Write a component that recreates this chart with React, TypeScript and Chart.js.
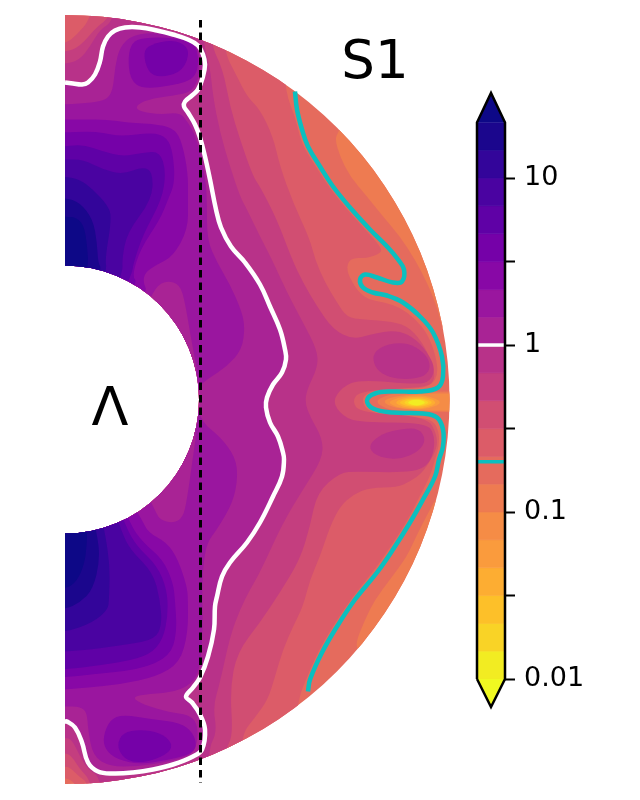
import React, { useEffect, useRef } from "react";
import { Chart, registerables } from "chart.js";

Chart.register(...registerables);

type Pt = number[];

// contour outlines, (cylindrical radius, height) in the plot's units
const CONTOUR_1: Pt[] = [[0,317],[8,316],[17,315],[23,317],[30,325],[35,338],[38,353],[43,363],[50,369],[60,372],[75,372],[92,369],[108,365],[123,360],[133,354],[138,345],[140,335],[138,323],[133,310],[127,304],[120,298],[119,293],[123,287],[130,275],[135,262],[140,243],[145,220],[151,190],[156,172],[166,153],[180,137],[195,115],[205,93],[215,70],[220,50],[221,40],[217,27],[208,15],[202,2],[201,-8],[205,-23],[213,-37],[218,-53],[219,-60],[217,-77],[208,-97],[195,-123],[182,-143],[165,-163],[157,-177],[152,-197],[150,-207],[149,-230],[143,-257],[135,-278],[128,-288],[121,-297],[127,-303],[135,-315],[140,-330],[137,-350],[128,-357],[108,-365],[88,-370],[68,-373],[48,-374],[33,-372],[23,-363],[17,-343],[10,-328],[2,-322],[0,-322]];
const CONTOUR_02: Pt[] = [[230,308],[232,290],[237,270],[243,253],[255,233],[268,213],[285,192],[305,170],[323,152],[333,140],[339,130],[337,118],[328,117],[312,122],[300,125],[295,120],[298,112],[308,107],[322,104],[338,97],[355,83],[368,67],[377,43],[378,23],[373,12],[355,8],[328,8],[310,6],[302,-1],[308,-9],[328,-13],[358,-14],[372,-18],[378,-30],[378,-47],[374,-60],[370,-77],[358,-100],[345,-123],[328,-150],[312,-173],[290,-200],[272,-227],[257,-253],[245,-280],[243,-292]];

const BAND_7: Pt[] = [[-60,420],[420,420],[420,-420],[-60,-420]];
const LOBE_TOP: Pt[] = [[273,267],[270,260],[275,243],[285,223],[302,203],[318,183],[335,163],[350,140],[363,115],[373,90],[380,60],[405,60],[405,280],[280,280]];
const LOBE_BOTTOM: Pt[] = [[373,-95],[365,-110],[352,-135],[342,-157],[325,-180],[310,-200],[300,-220],[290,-245],[295,-252],[415,-252],[415,-95]];
const BAND_8: Pt[] = [[220,420],[220,318],[223,300],[230,283],[235,262],[240,250],[252,231],[265,211],[282,190],[302,168],[318,150],[313,145],[300,141],[290,142],[283,138],[282,128],[287,118],[293,108],[303,100],[320,97],[335,92],[350,81],[363,65],[371,43],[373,25],[367,15],[355,11],[328,11],[310,9],[300,5],[297,-1],[302,-11],[320,-16],[355,-18],[368,-21],[374,-32],[374,-47],[370,-60],[365,-77],[353,-100],[342,-122],[325,-148],[309,-171],[287,-198],[269,-225],[253,-252],[241,-280],[233,-300],[215,-420],[25,-420],[12,-385],[0,-377],[-40,-377],[-40,420],[-40,420],[-40,420]];
const BAND_9: Pt[] = [[-40,355],[0,355],[12,365],[25,380],[35,420],[158,420],[158,350],[172,323],[182,303],[195,290],[208,263],[215,233],[228,197],[245,160],[250,140],[260,117],[272,97],[282,82],[298,80],[328,78],[345,72],[360,53],[368,33],[370,20],[362,12],[295,9],[287,-2],[295,-13],[362,-17],[372,-35],[372,-50],[358,-73],[345,-82],[332,-88],[305,-88],[288,-95],[275,-107],[265,-127],[255,-157],[245,-180],[238,-207],[228,-227],[218,-250],[210,-277],[203,-300],[190,-318],[175,-337],[175,-420],[25,-420],[23,-383],[15,-378],[5,-368],[0,-367],[-40,-367]];
const BAND_10: Pt[] = [[-40,347],[0,347],[15,353],[32,373],[45,382],[50,420],[145,420],[145,357],[158,330],[165,293],[175,260],[188,223],[195,213],[212,180],[227,140],[238,117],[252,93],[268,70],[288,60],[305,65],[332,70],[352,60],[365,43],[370,30],[365,18],[352,15],[295,20],[278,13],[267,-2],[278,-17],[295,-23],[362,-23],[370,-37],[368,-57],[358,-70],[335,-73],[292,-72],[275,-73],[252,-93],[245,-127],[235,-160],[215,-193],[195,-223],[172,-253],[165,-290],[168,-337],[160,-350],[160,-420],[35,-420],[25,-380],[15,-370],[7,-357],[0,-353],[-40,-353]];
const BAND_11: Pt[] = [[-40,335],[0,335],[15,340],[25,353],[35,370],[48,378],[55,420],[138,420],[138,357],[145,333],[148,303],[155,267],[165,233],[175,203],[182,190],[195,163],[207,140],[222,107],[238,77],[252,50],[253,33],[242,10],[240,-3],[245,-17],[258,-40],[257,-60],[238,-90],[218,-123],[195,-173],[185,-190],[175,-210],[165,-237],[155,-283],[148,-307],[152,-333],[143,-350],[143,-420],[40,-420],[35,-377],[23,-370],[15,-357],[7,-340],[0,-338],[-40,-338]];
const ISLAND_11_UP: Pt[] = [[307,44],[316,53],[332,57],[347,55],[361,45],[366,33],[360,23],[342,20],[324,22],[311,30]];
const ISLAND_11_DOWN: Pt[] = [[304,-45],[317,-34],[338,-29],[354,-29],[361,-40],[354,-52],[335,-60],[317,-58],[307,-53]];
const BAND_12: Pt[] = [...CONTOUR_1, [-40,-322],[-40,317]];
const BAND_13: Pt[] = [[-40,295],[0,295],[28,297],[42,300],[48,310],[50,333],[55,353],[68,365],[95,367],[122,360],[133,352],[135,337],[133,318],[125,307],[108,304],[82,300],[70,293],[75,288],[95,285],[115,287],[123,277],[130,265],[135,247],[141,217],[142,195],[142,160],[152,137],[165,115],[176,90],[180,73],[177,50],[162,33],[142,20],[135,14],[130,0],[137,-23],[155,-37],[170,-57],[173,-77],[168,-103],[152,-130],[142,-143],[138,-167],[137,-200],[138,-223],[135,-273],[123,-287],[105,-293],[78,-295],[67,-298],[78,-305],[105,-313],[123,-315],[132,-323],[133,-340],[128,-355],[105,-362],[72,-367],[45,-367],[28,-357],[23,-330],[22,-313],[15,-307],[0,-307],[-40,-307]];
const ISLAND_12_UP: Pt[] = [[91,113],[102,119],[115,115],[120,97],[125,67],[130,40],[133,23],[100,30],[80,90]];
const ISLAND_12_DOWN: Pt[] = [[133,-23],[128,-57],[122,-100],[118,-118],[108,-124],[95,-120],[91,-113],[80,-90],[100,-30]];
const BAND_14: Pt[] = [[-40,280],[0,280],[18,280],[42,280],[62,277],[95,275],[110,270],[117,257],[123,227],[123,200],[123,170],[108,143],[92,135],[80,127],[78,117],[83,107],[40,60],[40,-60],[77,-120],[83,-133],[102,-143],[113,-160],[122,-187],[123,-200],[123,-233],[115,-263],[92,-277],[55,-285],[22,-288],[0,-290],[-40,-290]];
const BLOB_14_TOP: Pt[] = [[63,343],[67,357],[78,362],[108,362],[128,357],[133,347],[133,330],[127,320],[112,315],[78,310],[65,320]];
const BLOB_14_BOTTOM: Pt[] = [[38,-337],[45,-320],[58,-315],[88,-320],[115,-323],[128,-333],[132,-347],[125,-355],[105,-360],[75,-365],[52,-360],[40,-350]];
const BAND_15: Pt[] = [[-40,267],[0,267],[22,268],[38,267],[55,263],[88,267],[102,262],[108,247],[110,217],[103,200],[95,180],[75,150],[67,123],[73,117],[40,60],[40,-60],[65,-125],[78,-143],[98,-160],[108,-183],[110,-200],[112,-233],[105,-257],[75,-270],[25,-275],[0,-278],[-40,-278]];
const BLOB_15_TOP: Pt[] = [[78,347],[85,355],[108,360],[123,353],[123,340],[115,327],[95,322],[83,327]];
const BLOB_15_BOTTOM: Pt[] = [[52,-345],[58,-333],[75,-330],[95,-333],[107,-343],[105,-353],[85,-362],[68,-363],[57,-357]];
const BAND_16: Pt[] = [[-40,253],[0,253],[18,255],[38,248],[58,243],[78,247],[95,248],[101,228],[97,200],[78,165],[68,135],[67,125],[35,60],[35,-60],[61,-128],[72,-147],[92,-166],[102,-190],[103,-215],[98,-240],[85,-255],[60,-262],[25,-267],[0,-270],[-40,-270]];
const BAND_17: Pt[] = [[-40,240],[0,240],[18,240],[38,230],[58,225],[78,233],[88,227],[87,200],[62,167],[57,140],[58,127],[30,60],[30,-60],[57,-133],[65,-150],[88,-173],[95,-200],[97,-225],[90,-240],[62,-245],[25,-250],[0,-252],[-40,-252]];
const BAND_18: Pt[] = [[-40,223],[0,223],[15,220],[28,210],[42,195],[47,183],[40,140],[42,130],[25,60],[25,-60],[40,-133],[45,-167],[44,-200],[43,-210],[28,-223],[0,-233],[-40,-233]];
const BAND_19: Pt[] = [[-40,202],[0,202],[15,197],[28,180],[32,157],[33,137],[37,130],[15,60],[15,-60],[32,-133],[35,-160],[28,-190],[15,-203],[0,-210],[-40,-210]];
const BAND_OVER: Pt[] = [[-40,183],[0,183],[12,182],[20,172],[23,143],[23,135],[10,60],[10,-60],[22,-133],[22,-140],[20,-163],[12,-182],[0,-190],[-40,-190]];

const HOT_6: Pt[] = [[310,-2],[320,4],[335,7],[365,8],[410,8],[410,-13],[365,-12],[335,-12],[320,-9]];
const HOT_5: Pt[] = [[317,-2],[328,3],[355,6],[380,6],[410,6],[410,-11],[375,-11],[355,-11],[328,-8]];
const HOT_4: Pt[] = [[322,-3],[333,2],[350,4.5],[365,3.5],[378,-3],[365,-9],[350,-10],[333,-8]];
const HOT_3: Pt[] = [[329,-3],[338,1.5],[350,3],[362,2.5],[373,-3],[362,-8.5],[350,-9],[338,-7.5]];
const HOT_2: Pt[] = [[333,-3],[341,0.5],[350,1.5],[360,1],[369,-3],[360,-7],[350,-7.5],[341,-6.5]];
const HOT_1: Pt[] = [[338,-3],[344,0],[352,0.5],[358,0],[365,-3],[358,-6],[352,-6.5],[344,-6]];
const HOT_0: Pt[] = [[342,-3],[347,-0.5],[352,0],[356,-0.5],[361,-3],[356,-5.5],[352,-6],[347,-5.5]];

const DIVIDER: Pt[] = [[135.5,379.5],[135.5,-383.5]];

// colour bar
const CB_LEVELS = [0.01,0.0147,0.0215,0.0316,0.0464,0.0681,0.1,0.147,0.215,0.316,0.464,0.681,1,1.47,2.15,3.16,4.64,6.81,10,14.7,21.5];
const CB_COLORS = ["#f2ec22","#f9d326","#fdc029","#fdad32","#fa9b3d","#f58c46","#ee7b51","#e56b5d","#dc5c68","#d14e72","#c43e7f","#b83289","#a92395","#9a169f","#8808a6","#7501a8","#5f01a6","#4a03a1","#33059a","#1b068d"];
const CB_OVER = "#0d0887";
const CB_UNDER = "#f0f921";
const CB_APEX_LOW = 0.0068;
const CB_APEX_HIGH = 32.3;
const CB_TICKS = [0.01,0.0316,0.1,0.316,1,3.16,10];
const CB_TICK_LABELS = ["0.01","","0.1","","1","","10"];
const WHITE_LEVEL = 1;
const CYAN_LEVEL = 0.2;
const CYAN = "#0cbfbf";
const WHITE = "#ffffff";

const R_OUT = 384.5;
const R_IN = 134;

const toXY = (p: Pt[]) => p.map(([x, y]) => ({ x, y }));
const poly = (p: Pt[], color: string, extra: any = {}) => ({
  data: toXY(p), polyFill: color, smooth: true, clipShell: true,
  showLine: false, pointRadius: 0, ...extra,
});

const polyPlugin = {
  id: "polyFill",
  beforeDatasetDraw(chart: any, args: any) {
    const ds = chart.data.datasets[args.index];
    if (!ds.polyFill) return;
    const pts = args.meta.data as any[];
    const ctx = chart.ctx as CanvasRenderingContext2D;
    ctx.save();
    if (ds.clipShell) {
      const sx = chart.scales.x, sy = chart.scales.y;
      const cx = sx.getPixelForValue(0), cy = sy.getPixelForValue(0);
      const ro = sx.getPixelForValue(R_OUT) - cx, ri = sx.getPixelForValue(R_IN) - cx;
      ctx.beginPath();
      ctx.rect(cx, 0, chart.width, chart.height);
      ctx.clip();
      ctx.beginPath();
      ctx.arc(cx, cy, ro, 0, Math.PI * 2);
      ctx.arc(cx, cy, ri, 0, Math.PI * 2);
      ctx.clip("evenodd");
    }
    ctx.beginPath();
    const n = pts.length;
    if (ds.smooth) {
      const mid = (a: any, b: any) => ({ x: (a.x + b.x) / 2, y: (a.y + b.y) / 2 });
      const s = mid(pts[n - 1], pts[0]);
      ctx.moveTo(s.x, s.y);
      for (let i = 0; i < n; i++) {
        const m = mid(pts[i], pts[(i + 1) % n]);
        ctx.quadraticCurveTo(pts[i].x, pts[i].y, m.x, m.y);
      }
    } else {
      pts.forEach((p, i) => (i ? ctx.lineTo(p.x, p.y) : ctx.moveTo(p.x, p.y)));
    }
    ctx.closePath();
    ctx.fillStyle = ds.polyFill;
    ctx.fill();
    if (ds.seam) {
      ctx.strokeStyle = ds.polyFill;
      ctx.lineWidth = ds.seam;
      ctx.stroke();
    }
    ctx.restore();
  },
};

const TITLE_TEXT = "S1";
const QUANTITY_TEXT = "Λ";

const labelPlugin = {
  id: "labels",
  afterDatasetsDraw(chart: any) {
    const ctx = chart.ctx as CanvasRenderingContext2D;
    const sx = chart.scales.x, sy = chart.scales.y;
    ctx.save();
    ctx.fillStyle = "#000";
    ctx.textAlign = "center";
    ctx.textBaseline = "alphabetic";
    ctx.font = '53px "DejaVu Sans"';
    ctx.fillText(TITLE_TEXT, sx.getPixelForValue(310), sy.getPixelForValue(322));
    ctx.font = '54px "DejaVu Sans"';
    ctx.fillText(QUANTITY_TEXT, sx.getPixelForValue(45), sy.getPixelForValue(-25.5));
    ctx.restore();
  },
};

export default function App() {
  const mainRef = useRef<HTMLCanvasElement>(null);
  const barRef = useRef<HTMLCanvasElement>(null);

  useEffect(() => {
    const c = (k: number) => CB_COLORS[k];
    const layers = [
      poly(BAND_7, c(7), { smooth: false }),
      poly(LOBE_TOP, c(6)),
      poly(LOBE_BOTTOM, c(6)),
      poly(HOT_6, c(6)),
      poly(HOT_5, c(5)),
      poly(HOT_4, c(4)),
      poly(HOT_3, c(3)),
      poly(HOT_2, c(2)),
      poly(HOT_1, c(1)),
      poly(HOT_0, c(0)),
      poly(BAND_8, c(8)),
      poly(BAND_9, c(9)),
      poly(BAND_10, c(10)),
      poly(BAND_11, c(11)),
      poly(ISLAND_11_UP, c(11)),
      poly(ISLAND_11_DOWN, c(11)),
      poly(BAND_12, c(12)),
      poly(BAND_13, c(13)),
      poly(ISLAND_12_UP, c(12)),
      poly(ISLAND_12_DOWN, c(12)),
      poly(BAND_14, c(14)),
      poly(BLOB_14_TOP, c(14)),
      poly(BLOB_14_BOTTOM, c(14)),
      poly(BAND_15, c(15)),
      poly(BLOB_15_TOP, c(15)),
      poly(BLOB_15_BOTTOM, c(15)),
      poly(BAND_16, c(16)),
      poly(BAND_17, c(17)),
      poly(BAND_18, c(18)),
      poly(BAND_19, c(19)),
      poly(BAND_OVER, CB_OVER),
      { data: toXY(CONTOUR_1), showLine: true, borderColor: WHITE, borderWidth: 4.5, tension: 0.4, pointRadius: 0 },
      { data: toXY(CONTOUR_02), showLine: true, borderColor: CYAN, borderWidth: 4.5, tension: 0.4, pointRadius: 0 },
      { data: toXY(DIVIDER), showLine: true, borderColor: "#000", borderWidth: 3, borderDash: [7.5, 5], pointRadius: 0 },
    ];
    const N = layers.length;
    const main = new Chart(mainRef.current as HTMLCanvasElement, {
      type: "scatter",
      data: { datasets: layers.map((d, i) => ({ ...d, order: N - i })) as any },
      options: {
        animation: false,
        responsive: false,
        layout: { padding: 0 },
        plugins: { legend: { display: false }, tooltip: { enabled: false } },
        scales: {
          x: { type: "linear", display: false, min: -65, max: 575 },
          y: { type: "linear", display: false, min: -400.5, max: 399.5 },
        },
      },
      plugins: [polyPlugin, labelPlugin],
    } as any);

    const bandSets = CB_COLORS.map((col, k) => ({
      data: [
        { x: 0, y: CB_LEVELS[k] }, { x: 1, y: CB_LEVELS[k] },
        { x: 1, y: CB_LEVELS[k + 1] }, { x: 0, y: CB_LEVELS[k + 1] },
      ],
      polyFill: col, seam: 0.6, showLine: false, pointRadius: 0,
    }));
    const barLayers = [
      ...bandSets,
      { data: [{ x: 0, y: CB_LEVELS[0] }, { x: 1, y: CB_LEVELS[0] }, { x: 0.5, y: CB_APEX_LOW }], polyFill: CB_UNDER, showLine: false, pointRadius: 0 },
      { data: [{ x: 0, y: CB_LEVELS[20] }, { x: 1, y: CB_LEVELS[20] }, { x: 0.5, y: CB_APEX_HIGH }], polyFill: CB_OVER, showLine: false, pointRadius: 0 },
      { data: [{ x: 0, y: WHITE_LEVEL }, { x: 1, y: WHITE_LEVEL }], showLine: true, borderColor: WHITE, borderWidth: 3.5, pointRadius: 0 },
      { data: [{ x: 0, y: CYAN_LEVEL }, { x: 1, y: CYAN_LEVEL }], showLine: true, borderColor: CYAN, borderWidth: 3.5, pointRadius: 0 },
      {
        data: [
          { x: 0, y: CB_LEVELS[0] }, { x: 0.5, y: CB_APEX_LOW }, { x: 1, y: CB_LEVELS[0] },
          { x: 1, y: CB_LEVELS[20] }, { x: 0.5, y: CB_APEX_HIGH }, { x: 0, y: CB_LEVELS[20] }, { x: 0, y: CB_LEVELS[0] },
        ],
        showLine: true, borderColor: "#000", borderWidth: 2.5, pointRadius: 0, clip: false, borderJoinStyle: "miter",
      },
    ];
    const M = barLayers.length;
    const bar = new Chart(barRef.current as HTMLCanvasElement, {
      type: "scatter",
      data: { datasets: barLayers.map((d, i) => ({ ...d, order: M - i })) as any },
      options: {
        animation: false,
        responsive: false,
        layout: { padding: { left: 7, top: 8, bottom: 8, right: 0 } },
        plugins: { legend: { display: false }, tooltip: { enabled: false } },
        scales: {
          x: { type: "linear", display: false, min: 0, max: 1 },
          y: {
            type: "logarithmic",
            position: "right",
            min: CB_APEX_LOW,
            max: CB_APEX_HIGH,
            border: { display: false },
            grid: { drawOnChartArea: false, drawTicks: true, tickLength: 10, tickWidth: 2, tickColor: "#000" },
            afterBuildTicks(axis: any) {
              axis.ticks = CB_TICKS.map((value) => ({ value }));
            },
            afterFit(axis: any) {
              axis.width = 115;
              axis.paddingTop = 0;
              axis.paddingBottom = 0;
            },
            ticks: {
              autoSkip: false,
              maxRotation: 0,
              padding: 9,
              color: "#000",
              font: { family: '"DejaVu Sans"', size: 27 },
              callback(value: any) {
                const i = CB_TICKS.indexOf(Number(value));
                return i >= 0 ? CB_TICK_LABELS[i] : "";
              },
            },
          },
        },
      },
      plugins: [polyPlugin],
    } as any);

    return () => {
      main.destroy();
      bar.destroy();
    };
  }, []);

  return (
    <div style={{ position: "absolute", left: 0, top: 0, width: 640, height: 800, background: "#fff" }}>
      <canvas ref={mainRef} width={640} height={800} style={{ position: "absolute", left: 0, top: 0, display: "block" }} />
      <canvas ref={barRef} width={150} height={630} style={{ position: "absolute", left: 470, top: 85, display: "block" }} />
    </div>
  );
}
